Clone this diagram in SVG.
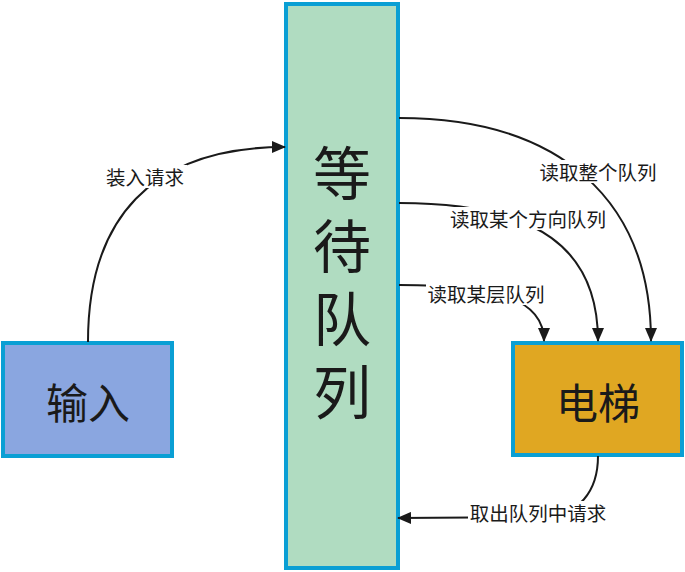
<svg xmlns="http://www.w3.org/2000/svg" width="685" height="572" viewBox="0 0 685 572">
<defs>
<marker id="arr" markerUnits="userSpaceOnUse" markerWidth="14" markerHeight="12" refX="13" refY="6" orient="auto">
<path d="M0,0 L14,6 L0,12 z" fill="#1a1a1a"/>
</marker>
<style>
.node{stroke:#0a9fd4;stroke-width:4}
.big{font-family:"Noto Sans CJK SC","Noto Sans",sans-serif;fill:#1a1a1a;text-anchor:middle;dominant-baseline:central}
.lbl{font-family:"Noto Sans CJK SC","Noto Sans",sans-serif;font-size:19.5px;fill:#1a1a1a;text-anchor:middle;dominant-baseline:central}
.edge{fill:none;stroke:#1a1a1a;stroke-width:2}
.bg{fill:#ffffff}
</style>
</defs>
<rect width="685" height="572" fill="#ffffff"/>
<g id="queue">
<rect class="node" x="286" y="4" width="112" height="564" fill="#b0dcc1"/>
<text class="big" font-size="58" x="342" y="290" writing-mode="tb" glyph-orientation-vertical="0" letter-spacing="15">等待队列</text>
</g>
<g id="input">
<rect class="node" x="3" y="343" width="169" height="113" fill="#8aa6e0"/>
<text class="big" font-size="42" x="88" y="400">输入</text>
</g>
<g id="elevator">
<rect class="node" x="513" y="343" width="169" height="112" fill="#e0a722"/>
<text class="big" font-size="42" x="598" y="400">电梯</text>
</g>
<g id="connectors">
<path class="edge" d="M88,342 C88,220 150,147 285,147" marker-end="url(#arr)"/>
<path class="edge" d="M399,118 C560,118 651,200 651,341" marker-end="url(#arr)"/>
<path class="edge" d="M399,203 C540,203 598,250 598,341" marker-end="url(#arr)"/>
<path class="edge" d="M399,285 C500,285 544,300 544,341" marker-end="url(#arr)"/>
<path class="edge" d="M598,456 C598,490 580,517 540,517 L398,518" marker-end="url(#arr)"/>
<rect class="bg" x="103" y="165" width="84" height="23"/>
<text class="lbl" x="145" y="176">装入请求</text>
<rect class="bg" x="538" y="160" width="121" height="23"/>
<text class="lbl" x="598" y="171">读取整个队列</text>
<rect class="bg" x="449" y="207" width="159" height="23"/>
<text class="lbl" x="528" y="218">读取某个方向队列</text>
<rect class="bg" x="426" y="282" width="121" height="23"/>
<text class="lbl" x="486" y="293">读取某层队列</text>
<rect class="bg" x="468" y="501" width="140" height="23"/>
<text class="lbl" x="538" y="512">取出队列中请求</text>
</g>
</svg>
